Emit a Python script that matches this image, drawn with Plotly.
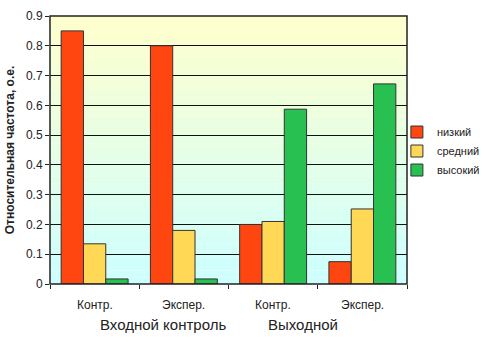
import plotly.graph_objects as go

categories = ["Контр.", "Экспер.", "Контр. ", "Экспер. "]
tick_labels = ["Контр.", "Экспер.", "Контр.", "Экспер."]
group_labels = ["Входной контроль", "Выходной"]
series_names = ["низкий", "средний", "высокий"]
low = [0.85, 0.80, 0.20, 0.075]
mid = [0.135, 0.18, 0.21, 0.252]
high = [0.017, 0.017, 0.587, 0.672]
y_ticks = [0, 0.1, 0.2, 0.3, 0.4, 0.5, 0.6, 0.7, 0.8, 0.9]
y_tick_text = ["0", "0.1", "0.2", "0.3", "0.4", "0.5", "0.6", "0.7", "0.8", "0.9"]

colors = ["#FF4510", "#FFD955", "#29C052"]

fig = go.Figure()
for name, vals, col in zip(series_names, [low, mid, high], colors):
    fig.add_trace(go.Bar(
        x=categories, y=vals, name=name,
        marker=dict(color=col, line=dict(color="#333333", width=1)),
    ))

# gradient background bands (yellow top -> light cyan bottom)
n = 40
top = (255, 255, 204)
bot = (204, 255, 255)
for i in range(n):
    t = (i + 0.5) / n
    c = tuple(int(round(bot[k] + (top[k] - bot[k]) * t)) for k in range(3))
    fig.add_shape(type="rect", xref="paper", yref="paper",
                  x0=0, x1=1, y0=i / n, y1=(i + 1) / n,
                  fillcolor="rgb(%d,%d,%d)" % c, line=dict(width=0), layer="below")

fig.add_shape(type="rect", xref="paper", yref="paper", x0=0, x1=1, y0=0, y1=1,
              line=dict(color="#222222", width=1.5), layer="above")

annotations = []
for cat, lab in zip(categories, tick_labels):
    annotations.append(dict(x=cat, y=0, xref="x", yref="paper", yshift=-21,
                            text=lab, showarrow=False, yanchor="middle",
                            font=dict(size=12, color="#222222")))
for pos, lab in zip([0.77, 2.335], group_labels):
    annotations.append(dict(x=pos, y=0, xref="x", yref="paper", yshift=-40,
                            text=lab, showarrow=False, yanchor="middle",
                            font=dict(size=15, color="#222222")))

fig.update_layout(
    width=490, height=344,
    margin=dict(l=50, r=83, t=16, b=60, autoexpand=False),
    paper_bgcolor="white", plot_bgcolor="rgba(0,0,0,0)",
    font=dict(family="Liberation Sans, Arial, sans-serif", color="#222222"),
    barmode="group", bargap=0.25, bargroupgap=0,
    showlegend=True,
    legend=dict(x=0.81, y=0.561, xref="container", yref="container",
                xanchor="left", yanchor="middle",
                font=dict(size=11), itemwidth=30, tracegroupgap=0,
                bgcolor="rgba(0,0,0,0)"),
    annotations=annotations,
    xaxis=dict(type="category", tickson="boundaries", ticks="outside",
               ticklen=4, tickcolor="#222222", showticklabels=False,
               showgrid=False, showline=False, range=[-0.5, 3.5],
               automargin=False),
    yaxis=dict(range=[0, 0.9], tickmode="array", tickvals=y_ticks,
               ticktext=y_tick_text,
               showgrid=True, gridcolor="#111111", gridwidth=1,
               ticks="outside", ticklen=4, tickcolor="#222222",
               tickfont=dict(size=12), zeroline=False, showline=False,
               automargin=False,
               title=dict(text="<b>Относительная частота, о.е.</b>",
                          font=dict(size=12), standoff=8)),
)

fig.write_html("out.html", config={"displayModeBar": False},
               post_script="document.body.style.margin='0';")
